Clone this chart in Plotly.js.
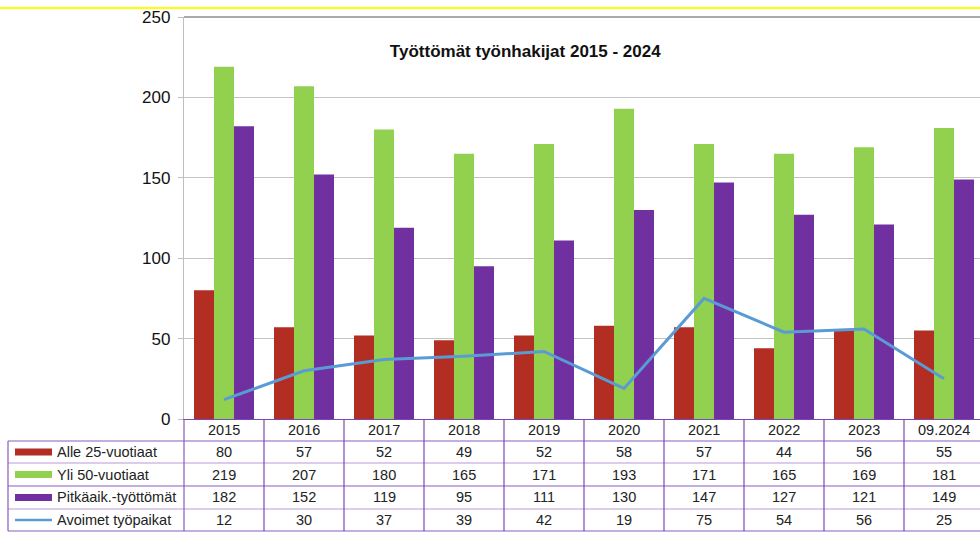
<!DOCTYPE html>
<html><head><meta charset="utf-8">
<script src="https://cdn.plot.ly/plotly-3.0.1.min.js"></script>
<style>html,body{margin:0;padding:0;background:#fff}#chart{width:980px;height:533px}</style>
</head><body><div id="chart"></div>
<script>
const years = ["2015","2016","2017","2018","2019","2020","2021","2022","2023","09.2024"];
const alle25 = [80,57,52,49,52,58,57,44,56,55];
const yli50 = [219,207,180,165,171,193,171,165,169,181];
const pitka = [182,152,119,95,111,130,147,127,121,149];
const avoimet = [12,30,37,39,42,19,75,54,56,25];
const seriesNames = ["Alle 25-vuotiaat","Yli 50-vuotiaat","Pitkäaik.-työttömät","Avoimet työpaikat"];
const seriesData = [alle25, yli50, pitka, avoimet];
const colors = ["#B22D22","#92D050","#7030A0","#5B9BD5"];

const W = 980, H = 533, L = 184, T = 17, B = 419;
const PH = B - T, PW = W - L;
const py = p => (B - p) / PH;
const pxp = p => (p - L) / PW;
const idx = years.map((_, i) => i);

const traces = [0,1,2].map(k => ({
  type: 'bar', x: idx, y: seriesData[k], name: seriesNames[k],
  marker: {color: colors[k]}, hoverinfo: 'none'
}));
traces.push({type:'scatter', mode:'lines', x: idx, y: avoimet, name: seriesNames[3],
  line:{color: colors[3], width:3}, hoverinfo:'none'});

const rowCenters = [452, 474.5, 497.5, 520];
const hLines = [441, 463, 486, 509, 531];
const font = {family: 'Liberation Sans, Arial, sans-serif', size: 14.5, color: '#222'};
const shapes = [];
const annotations = [];

shapes.push({type:'line', xref:'paper', yref:'paper', x0: pxp(0), x1: 1, y0: py(8), y1: py(8), line:{color:'#FFFF00', width:2}});
shapes.push({type:'line', xref:'paper', yref:'paper', x0: 0, x1: 1, y0: 1, y1: 1, line:{color:'#8C8C8C', width:1.5}});
hLines.forEach((h, j) => shapes.push({type:'line', xref:'paper', yref:'paper', x0: pxp(8), x1: 1, y0: py(h), y1: py(h),
  line:{color: j % 2 === 0 ? '#8A5CC0' : '#B89AD8', width:1.2}}));
shapes.push({type:'line', xref:'paper', yref:'paper', x0: pxp(8), x1: pxp(8), y0: py(441), y1: py(531), line:{color:'#8A5CC0', width:1.2}});
shapes.push({type:'line', xref:'paper', yref:'paper', x0: 0, x1: 0, y0: py(419), y1: py(531), line:{color:'#8A5CC0', width:1.2}});
for (let i = 0; i < years.length; i++) {
  shapes.push({type:'line', xref:'x', yref:'paper', x0: i + 0.5, x1: i + 0.5, y0: py(419), y1: py(531), line:{color:'#7E48B4', width:1.2}});
}
years.forEach((y, i) => annotations.push({x: i, xref:'x', y: py(430), yref:'paper', text: y, showarrow:false, font, xanchor:'center', yanchor:'middle'}));
seriesNames.forEach((nm, k) => {
  const c = rowCenters[k];
  if (k < 3) {
    shapes.push({type:'rect', xref:'paper', yref:'paper', x0: pxp(15), x1: pxp(52), y0: py(c + 3.5), y1: py(c - 3.5), fillcolor: colors[k], line:{width:0}});
  } else {
    shapes.push({type:'line', xref:'paper', yref:'paper', x0: pxp(15), x1: pxp(52), y0: py(c), y1: py(c), line:{color: colors[k], width:2.5}});
  }
  annotations.push({x: pxp(55), xref:'paper', y: py(c), yref:'paper', text: nm, showarrow:false, font, xanchor:'left', yanchor:'middle'});
  seriesData[k].forEach((v, i) => annotations.push({x: i, xref:'x', y: py(c), yref:'paper', text: String(v), showarrow:false, font, xanchor:'center', yanchor:'middle'}));
});

const layout = {
  width: W, height: H,
  margin: {l: L, r: 0, t: T, b: H - B, pad: 0},
  paper_bgcolor: '#fff', plot_bgcolor: '#fff',
  showlegend: false,
  barmode: 'group', bargap: 0.25, bargroupgap: 0,
  title: {text: '<b>Työttömät työnhakijat 2015 - 2024</b>', x: 0.536, xanchor:'center', y: 0.905, yanchor:'middle', yref:'container',
    font: {family: 'Liberation Sans, Arial, sans-serif', size: 17, color: '#111'}},
  xaxis: {range: [-0.5, 9.45], showticklabels: false, ticks: '', showgrid: false, zeroline: false,
    showline: true, linecolor: '#7E48B4', linewidth: 1.2, fixedrange: true},
  yaxis: {range: [0, 250], tickvals: [0,50,100,150,200,250], ticks: 'outside', ticklen: 5, tickcolor: '#BFBFBF',
    showgrid: true, gridcolor: '#C4C4C4', gridwidth: 1.2, zeroline: false, showline: true, linecolor: '#BFBFBF', linewidth: 1.2,
    tickfont: {family: 'Liberation Sans, Arial, sans-serif', size: 17, color: '#111'}, ticklabelstandoff: 4},
  shapes, annotations
};
Plotly.newPlot('chart', traces, layout, {displayModeBar: false, staticPlot: true});
</script></body></html>
